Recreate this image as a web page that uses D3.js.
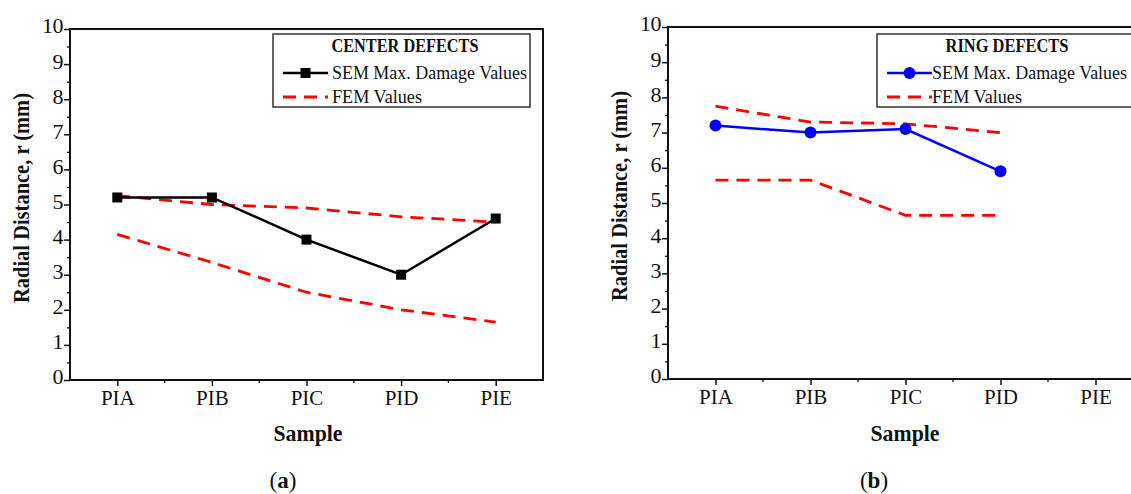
<!DOCTYPE html>
<html>
<head>
<meta charset="utf-8">
<script src="https://cdn.jsdelivr.net/npm/d3@7"></script>
<style>
  body { margin: 0; background: #fff; }
  svg { display: block; background: #fff; }
  text { font-family: "Liberation Serif", "DejaVu Serif", serif; fill: #111; }
</style>
</head>
<body>
<svg width="1131" height="494"></svg>
<script>
// sample categories and y ticks
const samples = ['PIA', 'PIB', 'PIC', 'PID', 'PIE'];
const yTicks = d3.range(0, 11);

// (a) center defects
const centerSem = [5.2, 5.2, 4.0, 3.0, 4.6];
const centerFemHigh = [5.25, 5.0, 4.9, 4.65, 4.5];
const centerFemLow = [4.15, 3.35, 2.5, 2.0, 1.65];

// (b) ring defects (no PIE value)
const ringSem = [7.2, 7.0, 7.1, 5.9];
const ringFemHigh = [7.75, 7.3, 7.25, 7.0];
const ringFemLow = [5.65, 5.65, 4.65, 4.65];

const svg = d3.select('svg');

function panel(cfg) {
  const g = svg.append('g').attr('transform', `translate(${cfg.left},${cfg.top})`);
  const x = d3.scalePoint().domain(samples).range([0, cfg.width]).padding(0.5);
  const y = d3.scaleLinear().domain([0, 10]).range([cfg.height, 0]);

  // minor y ticks
  g.append('g')
    .call(d3.axisLeft(y).tickValues(d3.range(0.5, 10, 1)).tickSize(3).tickFormat(''))
    .call(a => a.select('.domain').remove())
    .selectAll('line').attr('stroke', '#111').attr('stroke-width', 1.3);

  // major y ticks
  const ya = g.append('g')
    .call(d3.axisLeft(y).tickValues(yTicks).tickSize(6).tickPadding(1))
    .call(a => a.select('.domain').remove());
  ya.selectAll('line').attr('stroke', '#111').attr('stroke-width', 1.5);
  ya.selectAll('text')
    .attr('font-size', 22)
    .attr('fill', '#111')
    .attr('dy', '0.18em')
    .attr('letter-spacing', -0.5);

  // x axis with minor ticks between categories
  const xa = g.append('g')
    .attr('transform', `translate(0,${cfg.height})`)
    .call(d3.axisBottom(x).tickSize(6).tickPadding(4))
    .call(a => a.select('.domain').remove());
  xa.selectAll('line').attr('stroke', '#111').attr('stroke-width', 1.5);
  xa.selectAll('text')
    .attr('font-size', 21)
    .attr('fill', '#111');
  g.append('g').selectAll('line')
    .data(samples.slice(0, -1))
    .enter().append('line')
    .attr('x1', d => x(d) + x.step() / 2)
    .attr('x2', d => x(d) + x.step() / 2)
    .attr('y1', cfg.height)
    .attr('y2', cfg.height + 3)
    .attr('stroke', '#111').attr('stroke-width', 1.3);

  // frame
  g.append('rect')
    .attr('width', cfg.width).attr('height', cfg.height)
    .attr('fill', 'none').attr('stroke', '#111').attr('stroke-width', 2);

  const line = d3.line()
    .x((d, i) => x(samples[i]))
    .y(d => y(d));

  // FEM dashed bounds
  cfg.fem.forEach(vals => {
    g.append('path')
      .datum(vals)
      .attr('d', line)
      .attr('fill', 'none')
      .attr('stroke', '#ff0000')
      .attr('stroke-width', 2.8)
      .attr('stroke-dasharray', '13,8');
  });

  // SEM line + markers
  g.append('path')
    .datum(cfg.sem)
    .attr('d', line)
    .attr('fill', 'none')
    .attr('stroke', cfg.color)
    .attr('stroke-width', 2.5);

  const pts = g.append('g').selectAll('.pt')
    .data(cfg.sem)
    .enter();
  if (cfg.marker === 'square') {
    pts.append('rect')
      .attr('x', (d, i) => x(samples[i]) - 5)
      .attr('y', d => y(d) - 5)
      .attr('width', 10).attr('height', 10)
      .attr('fill', cfg.color);
  } else {
    pts.append('circle')
      .attr('cx', (d, i) => x(samples[i]))
      .attr('cy', d => y(d))
      .attr('r', 6)
      .attr('fill', cfg.color);
  }

  // legend
  const L = cfg.legend;
  const lg = svg.append('g').attr('transform', `translate(${L.x},${L.y})`);
  lg.append('rect')
    .attr('width', L.w).attr('height', 73)
    .attr('fill', '#fff').attr('stroke', '#333').attr('stroke-width', 1.5);
  lg.append('text')
    .attr('x', L.titleX).attr('y', 18)
    .attr('text-anchor', 'middle')
    .attr('font-size', 18).attr('font-weight', 'bold')
    .attr('textLength', L.titleLen).attr('lengthAdjust', 'spacingAndGlyphs')
    .text(cfg.title);
  lg.append('line')
    .attr('x1', 10).attr('x2', 55).attr('y1', 39).attr('y2', 39)
    .attr('stroke', cfg.color).attr('stroke-width', 2.5);
  if (cfg.marker === 'square') {
    lg.append('rect').attr('x', 27.5).attr('y', 34).attr('width', 10).attr('height', 10).attr('fill', cfg.color);
  } else {
    lg.append('circle').attr('cx', 32.5).attr('cy', 39).attr('r', 6).attr('fill', cfg.color);
  }
  lg.append('text')
    .attr('x', L.textX).attr('y', 45)
    .attr('font-size', 19)
    .attr('textLength', 195).attr('lengthAdjust', 'spacingAndGlyphs')
    .text('SEM Max. Damage Values');
  lg.append('line')
    .attr('x1', 10).attr('x2', 55).attr('y1', 63).attr('y2', 63)
    .attr('stroke', '#ff0000').attr('stroke-width', 2.8)
    .attr('stroke-dasharray', '13,8');
  lg.append('text')
    .attr('x', L.textX).attr('y', 69)
    .attr('font-size', 19)
    .attr('textLength', 90).attr('lengthAdjust', 'spacingAndGlyphs')
    .text('FEM Values');

  // axis titles
  svg.append('text')
    .attr('transform', `translate(${cfg.left - 41},${cfg.top + 169}) rotate(-90)`)
    .attr('text-anchor', 'middle')
    .attr('font-size', 23).attr('font-weight', 'bold')
    .attr('textLength', 210).attr('lengthAdjust', 'spacingAndGlyphs')
    .text('Radial Distance, r (mm)');
  svg.append('text')
    .attr('x', cfg.sampleX).attr('y', 441)
    .attr('text-anchor', 'middle')
    .attr('font-size', 24).attr('font-weight', 'bold')
    .attr('textLength', 69).attr('lengthAdjust', 'spacingAndGlyphs')
    .text('Sample');
  const cap = svg.append('text')
    .attr('x', cfg.capX).attr('y', 488)
    .attr('text-anchor', 'middle')
    .attr('font-size', 23);
  cap.append('tspan').text('(');
  cap.append('tspan').attr('font-weight', 'bold').text(cfg.cap);
  cap.append('tspan').text(')');
}

panel({
  left: 70, top: 29, width: 473, height: 351,
  title: 'CENTER DEFECTS', color: '#000', marker: 'square',
  sem: centerSem, fem: [centerFemHigh, centerFemLow],
  legend: { x: 273, y: 34, w: 257, titleX: 132, titleLen: 147, textX: 59 },
  sampleX: 308, capX: 283, cap: 'a'
});

panel({
  left: 668, top: 27, width: 475, height: 352,
  title: 'RING DEFECTS', color: '#0000ff', marker: 'circle',
  sem: ringSem, fem: [ringFemHigh, ringFemLow],
  legend: { x: 877, y: 34, w: 262, titleX: 130, titleLen: 123, textX: 55 },
  sampleX: 905, capX: 874, cap: 'b'
});
</script>
</body>
</html>
